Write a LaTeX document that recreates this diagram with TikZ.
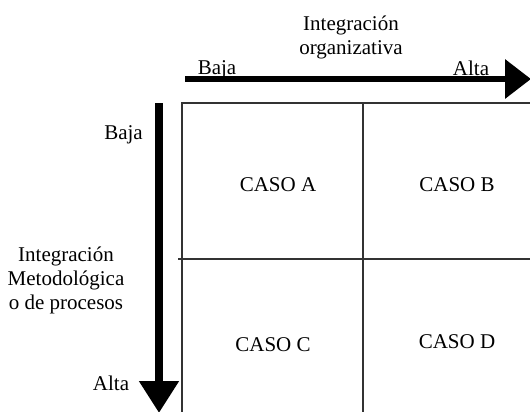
\documentclass[tikz,border=0pt]{standalone}
\usepackage{fontspec}
\setmainfont{Liberation Serif}
\usetikzlibrary{arrows.meta}
\begin{document}
\begin{tikzpicture}[x=1pt,y=-1pt,
  lbl/.style={inner sep=0pt,font=\fontsize{21}{24}\selectfont},
  grid/.style={draw=black!80,line width=1.3pt},
]
\useasboundingbox (0,0) rectangle (530,412);
\clip (0,0) rectangle (530,412);
% grid
\coordinate (tl) at (182,103);
\coordinate (tm) at (363,103);
\coordinate (tr) at (540,103);
\coordinate (ml) at (178,259);
\coordinate (mr) at (540,259);
\coordinate (bl) at (182,420);
\coordinate (bm) at (363,420);
\draw[grid] (tr) -- (tl) -- (bl);
\draw[grid] (tm) -- (bm);
\draw[grid] (ml) -- (mr);
% cell labels
\node[lbl] (ca) at (278,185) {CASO A};
\node[lbl] (cb) at (457,185) {CASO B};
\node[lbl] (cc) at (273,345) {CASO C};
\node[lbl] (cd) at (457,342) {CASO D};
% top arrow
\coordinate (hs) at (185,79);
\coordinate (he) at (531,79);
\draw[line width=6.5pt,-{Triangle[length=26pt,width=38pt]}] (hs) -- (he);
\node[lbl,align=center] (ho) at (351,37) {Integración\\organizativa};
\node[lbl] (hb) at (217,70) {Baja};
\node[lbl] (ha) at (471,68) {Alta};
% left arrow
\coordinate (vs) at (159,103);
\coordinate (ve) at (159,413);
\draw[line width=8pt,-{Triangle[length=32pt,width=38pt]}] (vs) -- (ve);
\node[lbl,anchor=east] (vb) at (143,135) {Baja};
\node[lbl,align=center] (vm) at (66,280) {Integración\\Metodológica\\o de procesos};
\node[lbl] (va) at (111,383) {Alta};
\end{tikzpicture}
\end{document}
